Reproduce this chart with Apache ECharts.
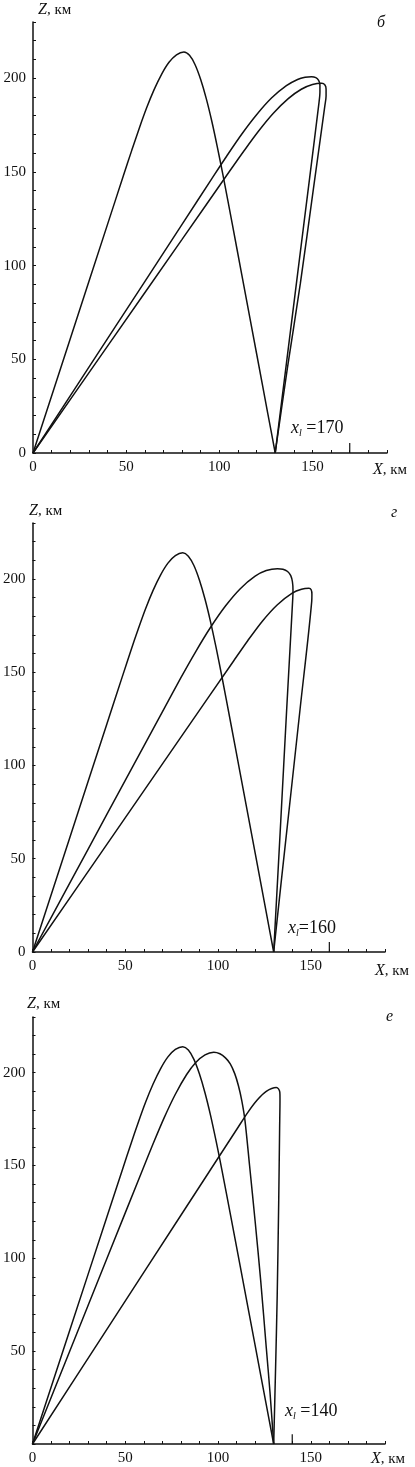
<!DOCTYPE html>
<html>
<head>
<meta charset="utf-8">
<script src="https://cdn.jsdelivr.net/npm/echarts@6/dist/echarts.min.js"></script>
<style>
  html, body { margin: 0; padding: 0; background: #fff; }
  #chart { width: 415px; height: 1467px; }
</style>
</head>
<body>
<div id="chart"></div>
<script>
/* ----------------------------  data: [X km, Z km] pairs  ---------------------------- */
// the tall reference trajectory, same in every panel
const curveRef = [
  [0, 0], [20, 61], [40, 122], [48.5, 147.9], [53, 161.5], [57, 173.2], [61, 184.2], [65, 193.9],
  [69, 202.1], [73, 208.5], [77, 212.5], [81, 214], [84, 212.2], [87, 207.2], [90, 199.3], [93, 189.1],
  [96, 176.9], [99, 163], [102, 148.1], [106.9, 122.5], [112, 95.5], [120, 53.1], [126, 21.2], [130, 0]
];

// panel б, x_l = 170
const b_outer = [
  [0, 0], [40, 61], [80, 122], [96, 146.4], [104, 158.5], [112, 170.1], [120, 180.5], [128, 189.4],
  [136, 196], [142, 199.3], [146, 200.5], [149.5, 200.8], [151.8, 200.3], [153.3, 198.8], [154, 196.3],
  [154, 192.5], [153.5, 187], [148.5, 147], [142, 95.5], [136, 47.7], [130, 0]
];
const b_inner = [
  [0, 0], [40, 57], [80, 114], [105.4, 150.2], [113, 160.9], [121, 171.7], [129, 181.3], [137, 189.1],
  [144, 194.1], [150, 196.6], [155, 197.3], [156.7, 196.4], [157.3, 194.3], [157.3, 190.5],
  [156.6, 185], [150.5, 141], [143.5, 90.5], [136.5, 45], [130, 0]
];

// panel г, x_l = 160
const g_mid = [
  [0, 0], [20, 36.8], [40, 73.6], [60, 110.4], [71.1, 130.8], [80, 147.1], [88, 161.1], [96, 174.1],
  [104, 185.5], [112, 194.8], [120, 201.5], [126, 204.5], [132, 205.5], [135, 205.2], [137.5, 204],
  [139.2, 201.8], [140.1, 198.5], [140.4, 194], [140.3, 190], [137, 130], [133.8, 70], [130, 0]
];
const g_far = [
  [0, 0], [40, 57.6], [80, 115.2], [108.3, 155.9], [116, 166.9], [124, 177.5], [132, 186.2],
  [140, 192.4], [145, 194.5], [149, 195], [150.2, 194.2], [150.6, 191.8], [150.5, 188],
  [144.2, 130], [138.5, 78], [134.1, 38], [130, 0]
];

// panel е, x_l = 140
const e_mid = [
  [0, 0], [20, 49.8], [40, 99.6], [58.8, 146.4], [65, 161.7], [71, 175.8], [77, 188.4], [83, 198.9],
  [88, 205.5], [93, 209.6], [97.7, 211], [101, 210.2], [104, 208], [106.6, 204.8], [109, 199.5],
  [111, 193], [112.8, 185], [114.5, 174.5], [117, 150], [120, 120], [123, 88], [126, 52], [128, 28],
  [130, 0]
];
const e_far = [
  [0, 0], [40, 61.6], [80, 123.2], [111, 170.9], [116, 178.5], [121, 185.1], [126, 189.9],
  [131.4, 192], [132.6, 191.3], [133.3, 189.5], [133.4, 186], [133.2, 170], [132.7, 130], [131.9, 80],
  [131, 40], [130, 0]
];

const panelLetters = ['б', 'г', 'е'];
const xlValues = [170, 160, 140];
const xlLabels = ['{x|x}{s|l} =170', '{x|x}{s|l}=160', '{x|x}{s|l} =140'];
const xTickLabels = [0, 50, 100, 150];
const yTickLabels = [[0, 50, 100, 150, 200], [0, 50, 100, 150, 200], [50, 100, 150, 200]];
const panelCurves = [[curveRef, b_outer, b_inner], [curveRef, g_mid, g_far], [curveRef, e_mid, e_far]];

/* ----------------------------  layout  ---------------------------- */
const grids = [
  { left: 33, top: 22, width: 354, height: 431 },
  { left: 29, top: 523, width: 356, height: 429 },
  { left: 29, top: 1017, width: 356, height: 427 }
];
const FONT = '"Liberation Serif", "DejaVu Serif", serif';
const INK = '#111';

function xAxisFor(i) {
  return {
    type: 'value', gridIndex: i, min: 0, max: 190, interval: 10,
    axisLine: { show: true, onZero: false, lineStyle: { color: INK, width: 1.5 } },
    axisTick: { show: true, inside: true, length: 3, lineStyle: { color: INK, width: 1 } },
    axisLabel: {
      fontFamily: FONT, fontSize: 15, color: INK, margin: 7,
      formatter: v => (xTickLabels.includes(v) ? String(v) : '')
    },
    splitLine: { show: false }
  };
}

function yAxisFor(i) {
  return {
    type: 'value', gridIndex: i, min: 0, max: 230, interval: 10,
    axisLine: { show: true, onZero: false, lineStyle: { color: INK, width: 1.5 } },
    axisTick: { show: true, inside: true, length: 3, lineStyle: { color: INK, width: 1 } },
    axisLabel: {
      fontFamily: FONT, fontSize: 15, color: INK, margin: 7,
      formatter: v => (yTickLabels[i].includes(v) ? String(v) : '')
    },
    splitLine: { show: false }
  };
}

const series = [];
panelCurves.forEach((curves, i) => {
  curves.forEach(pts => {
    series.push({
      type: 'line', xAxisIndex: i, yAxisIndex: i, data: pts,
      showSymbol: false, smooth: 0.3, silent: true,
      lineStyle: { color: INK, width: 1.5 }
    });
  });
  // long tick marking x_l on the X axis
  series.push({
    type: 'line', xAxisIndex: i, yAxisIndex: i, data: [[xlValues[i], 0], [xlValues[i], 5.3]],
    showSymbol: false, silent: true, lineStyle: { color: INK, width: 1.2 }
  });
});

/* ----------------------------  texts  ---------------------------- */
const rich = {
  i: { fontFamily: FONT, fontStyle: 'italic', fontSize: 16, fill: INK },
  n: { fontFamily: FONT, fontSize: 15, fill: INK },
  x: { fontFamily: FONT, fontStyle: 'italic', fontSize: 18, fill: INK },
  s: { fontFamily: FONT, fontStyle: 'italic', fontSize: 10, fill: INK, padding: [10, 0, 0, 0] }
};
function txt(left, top, text, extra) {
  return { type: 'text', left, top, silent: true,
    style: Object.assign({ text, rich, fontFamily: FONT, fontSize: 15, fill: INK }, extra || {}) };
}
const zPos = [[38, 2], [29, 503], [27, 996]];
const xPos = [[373, 462], [375, 963], [371, 1451]];
const letterPos = [[377, 15], [391, 505], [386, 1009]];
const xlPos = [[291, 419], [288, 919], [285, 1402]];

const graphic = [];
for (let i = 0; i < 3; i++) {
  graphic.push(txt(zPos[i][0], zPos[i][1], '{i|Z}{n|, км}'));
  graphic.push(txt(xPos[i][0], xPos[i][1], '{i|X}{n|, км}'));
  graphic.push(txt(letterPos[i][0], letterPos[i][1], panelLetters[i], { fontStyle: 'italic', fontSize: 16 }));
  graphic.push(txt(xlPos[i][0], xlPos[i][1], xlLabels[i], { fontSize: 18 }));
}

const chart = echarts.init(document.getElementById('chart'), null, { renderer: 'canvas' });
chart.setOption({
  backgroundColor: '#fff',
  animation: false,
  grid: grids,
  xAxis: [0, 1, 2].map(xAxisFor),
  yAxis: [0, 1, 2].map(yAxisFor),
  series,
  graphic
});
</script>
</body>
</html>
